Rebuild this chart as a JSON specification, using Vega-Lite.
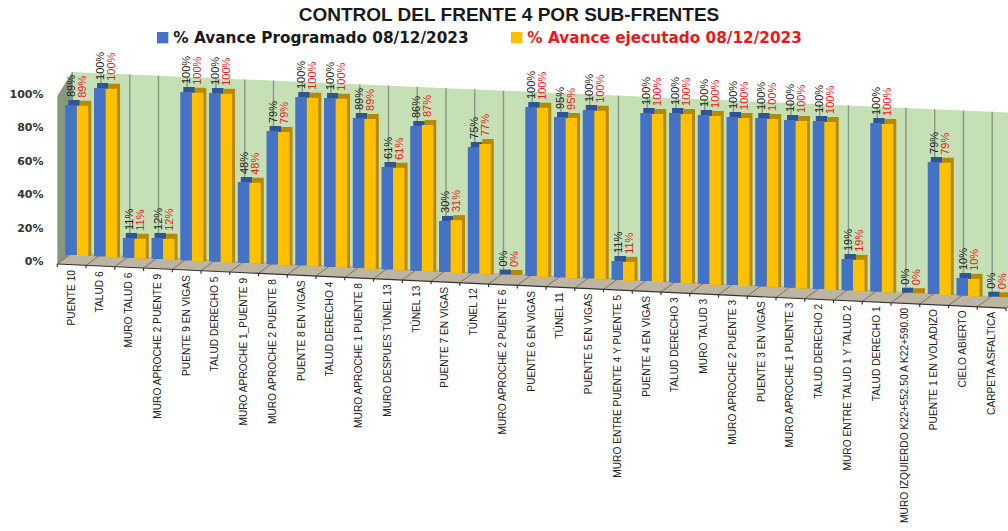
{"$schema":"https://vega.github.io/schema/vega-lite/v6.json","width":1008,"height":531,"padding":0,"autosize":"none","background":"white","config":{"view":{"stroke":null}},
"title":{"text":"CONTROL DEL FRENTE 4 POR SUB-FRENTES","font":"Liberation Sans","fontWeight":"bold","fontSize":19,"color":"#1a1a1a","anchor":"middle","offset":-25,"dx":5},
"datasets":{
"caras":[{"cara":"lateral","pos":0,"sup":98.8,"inf":-1.8},{"cara":"lateral","pos":0.52,"sup":113.2,"inf":4.8},
{"cara":"pared","pos":0.52,"sup":113.2,"inf":4.8},{"cara":"pared","pos":33.52,"sup":88.6,"inf":-21.6},
{"cara":"suelo","pos":0,"sup":-1.8,"inf":-1.8},{"cara":"suelo","pos":0.52,"sup":4.8,"inf":-2.2},{"cara":"suelo","pos":33.52,"sup":-21.6,"inf":-28.6}],
"divisiones":[{"x0":0,"x1":0.52,"frente":-1.8,"atras":4.8,"sup":113.2},{"x0":1,"x1":1.52,"frente":-2.6,"atras":4,"sup":112.5},{"x0":2,"x1":2.52,"frente":-3.4,"atras":3.2,"sup":111.7},{"x0":3,"x1":3.52,"frente":-4.2,"atras":2.4,"sup":111},{"x0":4,"x1":4.52,"frente":-5,"atras":1.6,"sup":110.2},{"x0":5,"x1":5.52,"frente":-5.8,"atras":0.8,"sup":109.5},{"x0":6,"x1":6.52,"frente":-6.6,"atras":0,"sup":108.7},{"x0":7,"x1":7.52,"frente":-7.4,"atras":-0.8,"sup":108},{"x0":8,"x1":8.52,"frente":-8.2,"atras":-1.6,"sup":107.2},{"x0":9,"x1":9.52,"frente":-9,"atras":-2.4,"sup":106.5},{"x0":10,"x1":10.52,"frente":-9.8,"atras":-3.2,"sup":105.7},{"x0":11,"x1":11.52,"frente":-10.6,"atras":-4,"sup":105},{"x0":12,"x1":12.52,"frente":-11.4,"atras":-4.8,"sup":104.3},{"x0":13,"x1":13.52,"frente":-12.2,"atras":-5.6,"sup":103.5},{"x0":14,"x1":14.52,"frente":-13,"atras":-6.4,"sup":102.8},{"x0":15,"x1":15.52,"frente":-13.8,"atras":-7.2,"sup":102},{"x0":16,"x1":16.52,"frente":-14.6,"atras":-8,"sup":101.3},{"x0":17,"x1":17.52,"frente":-15.4,"atras":-8.8,"sup":100.5},{"x0":18,"x1":18.52,"frente":-16.2,"atras":-9.6,"sup":99.8},{"x0":19,"x1":19.52,"frente":-17,"atras":-10.4,"sup":99},{"x0":20,"x1":20.52,"frente":-17.8,"atras":-11.2,"sup":98.3},{"x0":21,"x1":21.52,"frente":-18.6,"atras":-12,"sup":97.6},{"x0":22,"x1":22.52,"frente":-19.4,"atras":-12.8,"sup":96.8},{"x0":23,"x1":23.52,"frente":-20.2,"atras":-13.6,"sup":96.1},{"x0":24,"x1":24.52,"frente":-21,"atras":-14.4,"sup":95.3},{"x0":25,"x1":25.52,"frente":-21.8,"atras":-15.2,"sup":94.6},{"x0":26,"x1":26.52,"frente":-22.6,"atras":-16,"sup":93.8},{"x0":27,"x1":27.52,"frente":-23.4,"atras":-16.8,"sup":93.1},{"x0":28,"x1":28.52,"frente":-24.2,"atras":-17.6,"sup":92.3},{"x0":29,"x1":29.52,"frente":-25,"atras":-18.4,"sup":91.6},{"x0":30,"x1":30.52,"frente":-25.8,"atras":-19.2,"sup":90.9},{"x0":31,"x1":31.52,"frente":-26.6,"atras":-20,"sup":90.1},{"x0":32,"x1":32.52,"frente":-27.4,"atras":-20.8,"sup":89.4},{"x0":33,"x1":33.52,"frente":-28.2,"atras":-21.6,"sup":88.6}],
"avance":[
{"sub":"PUENTE 10","serie":"Programado","avance":89,"piso":3.6,"tope":93.4},{"sub":"PUENTE 10","serie":"Ejecutado","avance":89,"piso":3,"tope":92.9},
{"sub":"TALUD 6","serie":"Programado","avance":100,"piso":2.8,"tope":103.6},{"sub":"TALUD 6","serie":"Ejecutado","avance":100,"piso":2.2,"tope":103.1},
{"sub":"MURO TALUD 6","serie":"Programado","avance":11,"piso":2,"tope":13.8},{"sub":"MURO TALUD 6","serie":"Ejecutado","avance":11,"piso":1.4,"tope":13.3},
{"sub":"MURO APROCHE 2 PUENTE 9","serie":"Programado","avance":12,"piso":1.3,"tope":13.8},{"sub":"MURO APROCHE 2 PUENTE 9","serie":"Ejecutado","avance":12,"piso":0.7,"tope":13.3},
{"sub":"PUENTE 9 EN VIGAS","serie":"Programado","avance":100,"piso":0.5,"tope":101.2},{"sub":"PUENTE 9 EN VIGAS","serie":"Ejecutado","avance":100,"piso":-0.1,"tope":100.7},
{"sub":"TALUD DERECHO 5","serie":"Programado","avance":100,"piso":-0.3,"tope":100.6},{"sub":"TALUD DERECHO 5","serie":"Ejecutado","avance":100,"piso":-0.9,"tope":100.1},
{"sub":"MURO APROCHE 1_PUENTE 9","serie":"Programado","avance":48,"piso":-1.1,"tope":47.3},{"sub":"MURO APROCHE 1_PUENTE 9","serie":"Ejecutado","avance":48,"piso":-1.7,"tope":46.8},
{"sub":"MURO APROCHE 2 PUENTE 8","serie":"Programado","avance":79,"piso":-1.9,"tope":77.8},{"sub":"MURO APROCHE 2 PUENTE 8","serie":"Ejecutado","avance":79,"piso":-2.5,"tope":77.3},
{"sub":"PUENTE 8 EN VIGAS","serie":"Programado","avance":100,"piso":-2.6,"tope":98.2},{"sub":"PUENTE 8 EN VIGAS","serie":"Ejecutado","avance":100,"piso":-3.2,"tope":97.7},
{"sub":"TALUD DERECHO 4","serie":"Programado","avance":100,"piso":-3.4,"tope":97.6},{"sub":"TALUD DERECHO 4","serie":"Ejecutado","avance":100,"piso":-4,"tope":97.1},
{"sub":"MURO APROCHE 1 PUENTE 8","serie":"Programado","avance":89,"piso":-4.2,"tope":85.6},{"sub":"MURO APROCHE 1 PUENTE 8","serie":"Ejecutado","avance":89,"piso":-4.8,"tope":85.1},
{"sub":"MURO DESPUES TÚNEL 13","serie":"Programado","avance":61,"piso":-5,"tope":56.3},{"sub":"MURO DESPUES TÚNEL 13","serie":"Ejecutado","avance":61,"piso":-5.6,"tope":55.8},
{"sub":"TÚNEL 13","serie":"Programado","avance":86,"piso":-5.8,"tope":80.8},{"sub":"TÚNEL 13","serie":"Ejecutado","avance":87,"piso":-6.4,"tope":81.4},
{"sub":"PUENTE 7 EN VIGAS","serie":"Programado","avance":30,"piso":-6.5,"tope":24},{"sub":"PUENTE 7 EN VIGAS","serie":"Ejecutado","avance":31,"piso":-7.1,"tope":24.5},
{"sub":"TÚNEL 12","serie":"Programado","avance":75,"piso":-7.3,"tope":68.3},{"sub":"TÚNEL 12","serie":"Ejecutado","avance":77,"piso":-7.9,"tope":70},
{"sub":"MURO APROCHE 2 PUENTE 6","serie":"Programado","avance":0,"piso":-8.1,"tope":-8.1},{"sub":"MURO APROCHE 2 PUENTE 6","serie":"Ejecutado","avance":0,"piso":-8.4,"tope":-8.4},
{"sub":"PUENTE 6 EN VIGAS","serie":"Programado","avance":100,"piso":-8.9,"tope":92.2},{"sub":"PUENTE 6 EN VIGAS","serie":"Ejecutado","avance":100,"piso":-9.5,"tope":91.7},
{"sub":"TÚNEL 11","serie":"Programado","avance":95,"piso":-9.7,"tope":86.2},{"sub":"TÚNEL 11","serie":"Ejecutado","avance":95,"piso":-10.3,"tope":85.7},
{"sub":"PUENTE 5 EN VIGAS","serie":"Programado","avance":100,"piso":-10.4,"tope":90.4},{"sub":"PUENTE 5 EN VIGAS","serie":"Ejecutado","avance":100,"piso":-11,"tope":89.9},
{"sub":"MURO ENTRE PUENTE 4 Y PUENTE 5","serie":"Programado","avance":11,"piso":-11.2,"tope":0},{"sub":"MURO ENTRE PUENTE 4 Y PUENTE 5","serie":"Ejecutado","avance":11,"piso":-11.8,"tope":-0.5},
{"sub":"PUENTE 4 EN VIGAS","serie":"Programado","avance":100,"piso":-12,"tope":88.6},{"sub":"PUENTE 4 EN VIGAS","serie":"Ejecutado","avance":100,"piso":-12.6,"tope":88.1},
{"sub":"TALUD DERECHO 3","serie":"Programado","avance":100,"piso":-12.8,"tope":88.6},{"sub":"TALUD DERECHO 3","serie":"Ejecutado","avance":100,"piso":-13.4,"tope":88.1},
{"sub":"MURO TALUD 3","serie":"Programado","avance":100,"piso":-13.6,"tope":87.4},{"sub":"MURO TALUD 3","serie":"Ejecutado","avance":100,"piso":-14.2,"tope":86.9},
{"sub":"MURO APROCHE 2 PUENTE 3","serie":"Programado","avance":100,"piso":-14.3,"tope":86.2},{"sub":"MURO APROCHE 2 PUENTE 3","serie":"Ejecutado","avance":100,"piso":-14.9,"tope":85.7},
{"sub":"PUENTE 3 EN VIGAS","serie":"Programado","avance":100,"piso":-15.1,"tope":85.6},{"sub":"PUENTE 3 EN VIGAS","serie":"Ejecutado","avance":100,"piso":-15.7,"tope":85.1},
{"sub":"MURO APROCHE 1 PUENTE 3","serie":"Programado","avance":100,"piso":-15.9,"tope":84.4},{"sub":"MURO APROCHE 1 PUENTE 3","serie":"Ejecutado","avance":100,"piso":-16.5,"tope":83.9},
{"sub":"TALUD DERECHO 2","serie":"Programado","avance":100,"piso":-16.7,"tope":83.8},{"sub":"TALUD DERECHO 2","serie":"Ejecutado","avance":100,"piso":-17.3,"tope":83.3},
{"sub":"MURO ENTRE TALUD 1 Y TALUD 2","serie":"Programado","avance":19,"piso":-17.5,"tope":1.2},{"sub":"MURO ENTRE TALUD 1 Y TALUD 2","serie":"Ejecutado","avance":19,"piso":-18.1,"tope":0.7},
{"sub":"TALUD DERECHO 1","serie":"Programado","avance":100,"piso":-18.2,"tope":82.6},{"sub":"TALUD DERECHO 1","serie":"Ejecutado","avance":100,"piso":-18.8,"tope":82.1},
{"sub":"MURO IZQUIERDO K22+552.50 A K22+590.00","serie":"Programado","avance":0,"piso":-19,"tope":-19},{"sub":"MURO IZQUIERDO K22+552.50 A K22+590.00","serie":"Ejecutado","avance":0,"piso":-19.3,"tope":-19.3},
{"sub":"PUENTE 1 EN VOLADIZO","serie":"Programado","avance":79,"piso":-19.8,"tope":59.3},{"sub":"PUENTE 1 EN VOLADIZO","serie":"Ejecutado","avance":79,"piso":-20.4,"tope":58.8},
{"sub":"CIELO ABIERTO","serie":"Programado","avance":10,"piso":-20.6,"tope":-10.2},{"sub":"CIELO ABIERTO","serie":"Ejecutado","avance":10,"piso":-21.2,"tope":-10.7},
{"sub":"CARPETA ASFALTICA","serie":"Programado","avance":0,"piso":-21.4,"tope":-21.4},{"sub":"CARPETA ASFALTICA","serie":"Ejecutado","avance":0,"piso":-21.7,"tope":-21.7}
]},
"resolve":{"scale":{"x":"independent"}},
"layer":[
{"layer":[
{"data":{"name":"caras"},"mark":{"type":"area","interpolate":"linear"},
"encoding":{"x":{"field":"pos","type":"quantitative","axis":null,"scale":{"domain":[0,33],"range":[57.3,1006],"nice":false,"zero":false}},
"y":{"field":"sup","type":"quantitative","stack":null,"scale":{"domain":[-161.68,156.29],"nice":false,"zero":false},"axis":{"values":[0,20,40,60,80,100],"labelExpr":"datum.value+'%'","grid":false,"domain":false,"ticks":false,"offset":-46,"labelPadding":3,"labelFont":"DejaVu Sans","labelFontWeight":"bold","labelFontSize":11,"labelColor":"#333333","labelOffset":0.5,"title":null}},
"y2":{"field":"inf"},
"detail":{"field":"cara"},
"fill":{"field":"cara","type":"nominal","legend":null,"scale":{"domain":["lateral","pared","suelo"],"range":["#87977C","#C5E0B4","#BDB5A2"]}}}},
{"data":{"name":"divisiones"},"mark":{"type":"rule","color":"#8A9688","strokeWidth":1.4},
"encoding":{"x":{"field":"x1","type":"quantitative"},"y":{"field":"sup","type":"quantitative"},"y2":{"field":"atras"}}},
{"data":{"name":"divisiones"},"mark":{"type":"rule","color":"#77736A","strokeWidth":1},
"encoding":{"x":{"field":"x0","type":"quantitative"},"x2":{"field":"x1"},"y":{"field":"frente","type":"quantitative"},"y2":{"field":"atras"}}},
{"data":{"name":"divisiones"},"mark":{"type":"rule","color":"#333333","strokeWidth":1.2,"y2Offset":3},
"encoding":{"x":{"field":"x0","type":"quantitative"},"y":{"field":"frente","type":"quantitative"},"y2":{"field":"frente"}}},
{"data":{"values":[{"pos":0,"y":-1.8},{"pos":33,"y":-28.2}]},"mark":{"type":"line","color":"#333333","strokeWidth":1.2},
"encoding":{"x":{"field":"pos","type":"quantitative"},"y":{"field":"y","type":"quantitative"}}}
]},
{"data":{"name":"avance"},
"encoding":{"x":{"field":"sub","type":"nominal","sort":null,"axis":null,"scale":{"range":[57.3,1006],"paddingInner":0,"paddingOuter":0}}},
"resolve":{"scale":{"xOffset":"independent"}},
"layer":[
{"mark":{"type":"bar","yOffset":-5},
"encoding":{"xOffset":{"field":"serie","type":"nominal","scale":{"domain":["Programado","Ejecutado"],"range":[11,34],"paddingInner":0,"paddingOuter":0}},"y":{"field":"tope","type":"quantitative"},"y2":{"field":"piso"},
"color":{"condition":{"test":"datum.serie==='Programado'","value":"#2F5597"},"value":"#B68A00"}}},
{"mark":{"type":"bar"},
"encoding":{"xOffset":{"field":"serie","type":"nominal","scale":{"domain":["Programado","Ejecutado"],"range":[8,31],"paddingInner":0,"paddingOuter":0}},"y":{"field":"tope","type":"quantitative"},"y2":{"field":"piso"},
"color":{"field":"serie","type":"nominal","scale":{"domain":["Programado","Ejecutado"],"range":["#4472C4","#FFC000"]},
"legend":{"orient":"none","legendX":155,"legendY":30,"direction":"horizontal","title":null,"symbolType":"square","symbolSize":130,"symbolStrokeWidth":0,"labelFont":"DejaVu Sans","labelFontWeight":"bold","labelFontSize":15.3,"columnPadding":40,"labelOffset":3,"labelLimit":400,
"labelExpr":"datum.label==='Programado'?'% Avance Programado 08/12/2023':'% Avance ejecutado 08/12/2023'",
"encode":{"labels":{"update":{"fill":{"signal":"datum.label==='Programado'?'#1a1a1a':'#E8191C'"}}}}}}}},
{"transform":[{"calculate":"datum.avance+'%'","as":"etiqueta"}],"mark":{"type":"text","angle":270,"align":"left","baseline":"middle","dx":8,"font":"Liberation Sans","fontSize":11},
"encoding":{"xOffset":{"field":"serie","type":"nominal","scale":{"domain":["Programado","Ejecutado"],"range":[15,26],"paddingInner":0,"paddingOuter":0}},"y":{"field":"tope","type":"quantitative"},"text":{"field":"etiqueta","type":"nominal"},
"color":{"condition":{"test":"datum.serie==='Programado'","value":"#222222"},"value":"#E8191C"}}}
]},
{"data":{"name":"avance"},"transform":[{"filter":"datum.serie==='Programado'"}],
"mark":{"type":"text","angle":270,"align":"right","baseline":"middle","dx":-15,"font":"Liberation Sans","fontSize":10.2,"color":"#222222"},
"encoding":{"x":{"field":"sub","type":"nominal","sort":null,"axis":null,"scale":{"range":[57.3,1006],"paddingInner":0,"paddingOuter":0}},"y":{"field":"piso","type":"quantitative"},"text":{"field":"sub","type":"nominal"}}}
]}
